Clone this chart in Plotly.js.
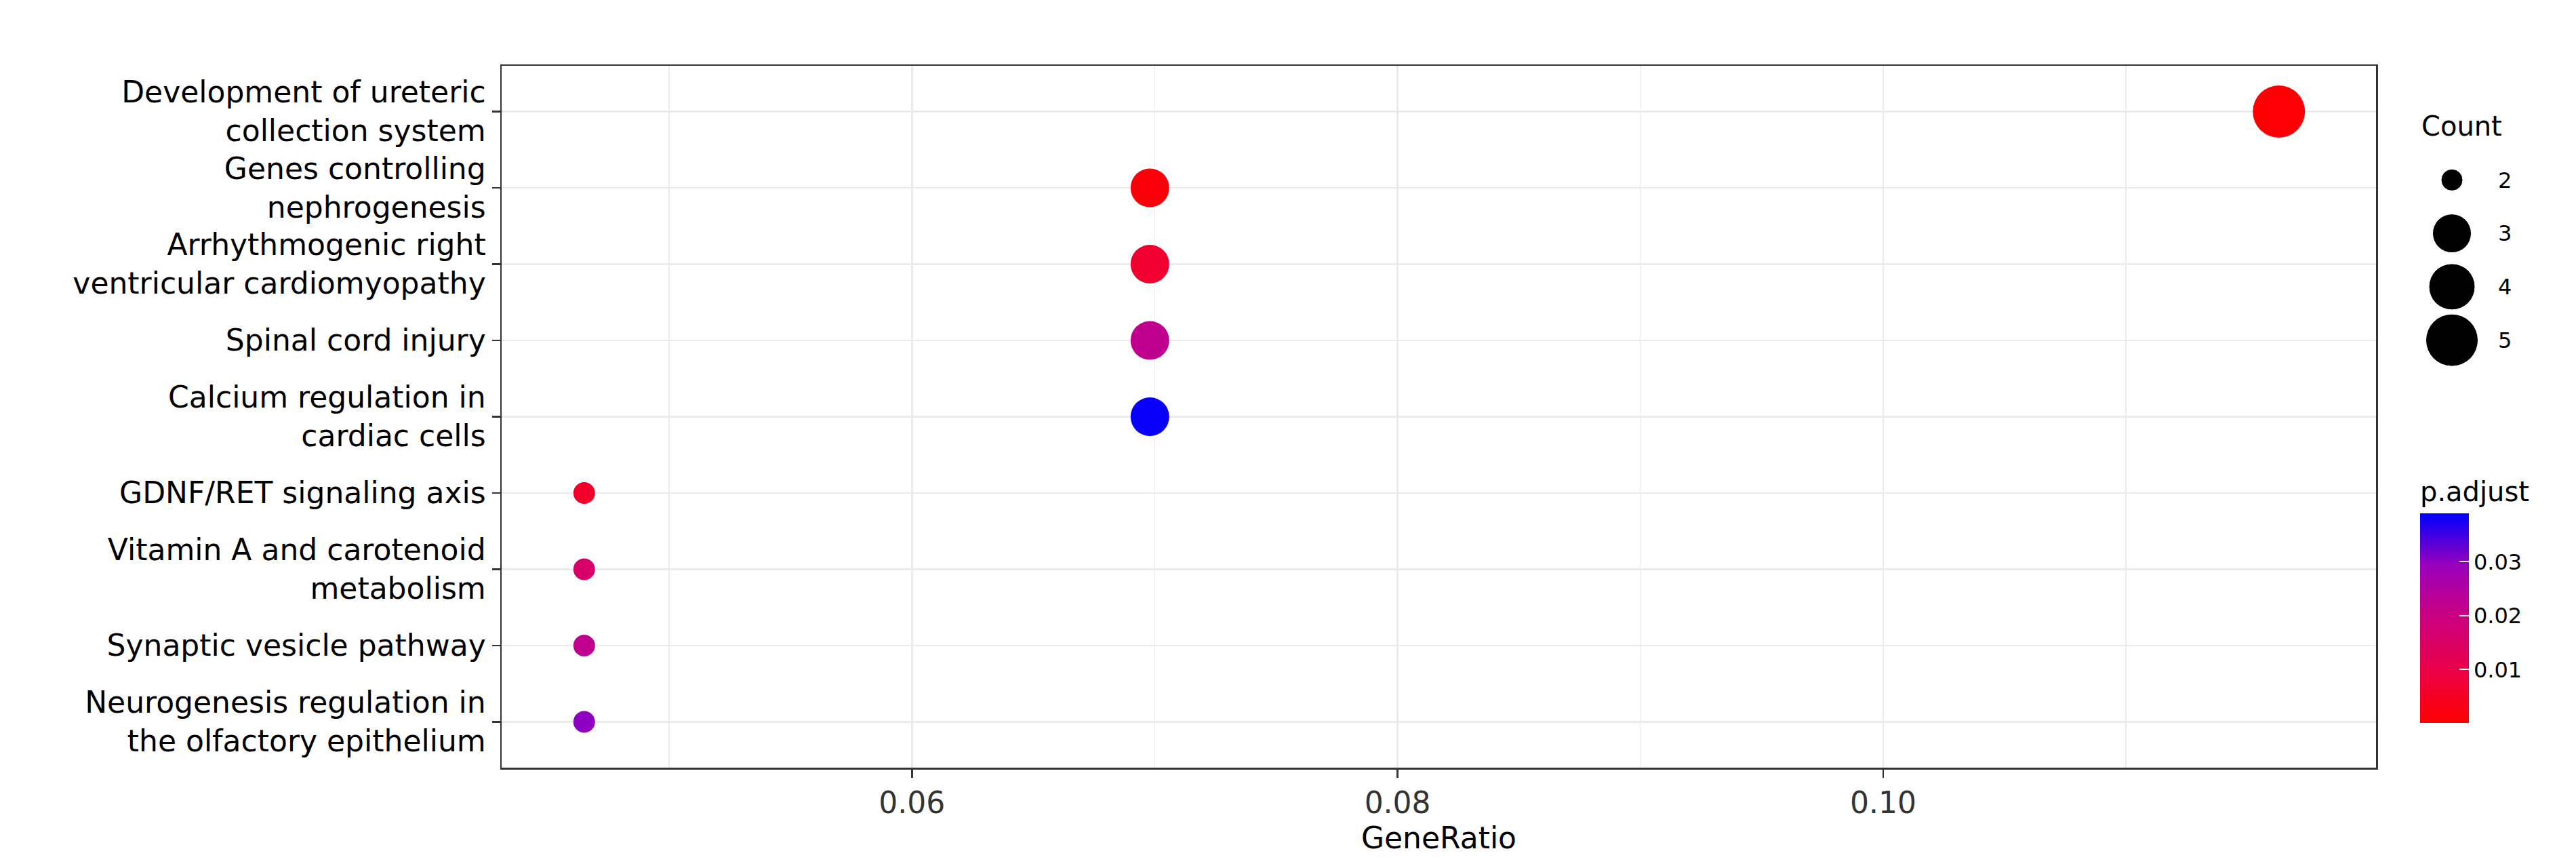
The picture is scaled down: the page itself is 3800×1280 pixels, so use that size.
<!DOCTYPE html>
<html>
<head>
<meta charset="utf-8">
<script src="https://cdn.plot.ly/plotly-3.0.1.min.js"></script>
<style>body{margin:0;background:#fff}#chart{width:3800px;height:1280px}</style>
</head>
<body>
<div id="chart"></div>
<script>
const pathways = [
  'Development of ureteric<br>collection system',
  'Genes controlling<br>nephrogenesis',
  'Arrhythmogenic right<br>ventricular cardiomyopathy',
  'Spinal cord injury',
  'Calcium regulation in<br>cardiac cells',
  'GDNF/RET signaling axis',
  'Vitamin A and carotenoid<br>metabolism',
  'Synaptic vesicle pathway',
  'Neurogenesis regulation in<br>the olfactory epithelium'
];
const geneRatio = [0.1163, 0.0698, 0.0698, 0.0698, 0.0698, 0.0465, 0.0465, 0.0465, 0.0465];
const counts = [5, 3, 3, 3, 3, 2, 2, 2, 2];
const pAdjust = [0.0005, 0.0015, 0.0065, 0.022, 0.0385, 0.006, 0.016, 0.022, 0.030];
const countLevels = [5, 4, 3, 2];

// ggplot-like size scale (diameter px)
const sizeOf = c => ({2: 32, 3: 57, 4: 68, 5: 77})[c];
const W = 3800, H = 1280;
const px = (a, b) => [a / W, b / W];
const py = (top, bottom) => [(H - bottom) / H, (H - top) / H];

const font = 'DejaVu Sans, sans-serif';
// red -> blue, roughly as ggplot blends it
const scale = [[0, '#ff0000'], [0.25, '#ea0048'], [0.5, '#cc007f'], [0.75, '#9a00bc'], [1, '#0000ff']];

const dots = {
  x: geneRatio, y: pathways, type: 'scatter', mode: 'markers',
  marker: {
    size: counts.map(sizeOf), sizemode: 'diameter', opacity: 1,
    color: pAdjust, colorscale: scale, cmin: 0.0001, cmax: 0.039,
    line: {width: 0},
    colorbar: {
      thickness: 72, len: 360, lenmode: 'pixels',
      x: 3570 / W, xref: 'paper', xanchor: 'left', xpad: 0,
      y: (H - 1066) / H, yref: 'paper', yanchor: 'bottom', ypad: 0,
      outlinewidth: 0, ticks: 'inside', ticklen: 14, tickcolor: '#ffffff', tickwidth: 2,
      tickvals: [0.01, 0.02, 0.03], ticktext: ['0.01', '0.02', '0.03'],
      tickfont: {family: font, size: 32, color: '#000'},
      title: {text: 'p.adjust', side: 'top', font: {family: font, size: 40, color: '#000'}}
    }
  },
  showlegend: false, hoverinfo: 'x+y'
};

const sizeKey = {
  x: countLevels.map(() => 0), y: countLevels.map(String),
  xaxis: 'x2', yaxis: 'y2', type: 'scatter', mode: 'markers',
  marker: {size: countLevels.map(sizeOf), sizemode: 'diameter', color: '#000', opacity: 1},
  showlegend: false, hoverinfo: 'skip'
};

const layout = {
  width: W, height: H,
  margin: {l: 0, r: 0, t: 0, b: 0},
  paper_bgcolor: '#fff', plot_bgcolor: '#fff',
  font: {family: font, color: '#000'},
  xaxis: {
    domain: px(740, 3505), range: [0.0431, 0.1203],
    tickvals: [0.06, 0.08, 0.10], ticktext: ['0.06', '0.08', '0.10'],
    ticks: 'outside', ticklen: 12, tickwidth: 2.5, tickcolor: '#333',
    tickfont: {size: 44, color: '#333'},
    showgrid: true, gridcolor: '#ebebeb', gridwidth: 2.5,
    minor: {tickvals: [0.05, 0.07, 0.09, 0.11], showgrid: true, gridcolor: '#ebebeb', gridwidth: 1.3},
    showline: true, linecolor: '#333', linewidth: 2.5, mirror: true, zeroline: false,
    title: {text: 'GeneRatio', font: {size: 44}, standoff: 12}
  },
  yaxis: {
    domain: py(97, 1132), type: 'category', categoryorder: 'array', categoryarray: pathways,
    range: [8.6, -0.6],
    ticks: 'outside', ticklen: 12, tickwidth: 2.5, tickcolor: '#333',
    tickfont: {size: 44, color: '#000'},
    showgrid: true, gridcolor: '#ebebeb', gridwidth: 2.5,
    showline: true, linecolor: '#333', linewidth: 2.5, mirror: true, zeroline: false
  },
  xaxis2: {domain: px(3570, 3664), range: [-1, 1], visible: false, fixedrange: true},
  yaxis2: {
    domain: py(226, 541), anchor: 'x2', side: 'right', type: 'category',
    categoryorder: 'array', categoryarray: countLevels.map(String), range: [-0.5, 3.5],
    showgrid: false, showline: false, zeroline: false, ticks: '',
    tickfont: {size: 32, color: '#000'}, ticklabelstandoff: 20, fixedrange: true
  },
  annotations: [{
    text: 'Count', xref: 'paper', yref: 'paper', x: 3570 / W, y: (H - 186) / H,
    xanchor: 'left', yanchor: 'middle', showarrow: false, font: {family: font, size: 40, color: '#000'}
  }]
};

Plotly.newPlot('chart', [dots, sizeKey], layout, {displayModeBar: false, staticPlot: true});
</script>
</body>
</html>
